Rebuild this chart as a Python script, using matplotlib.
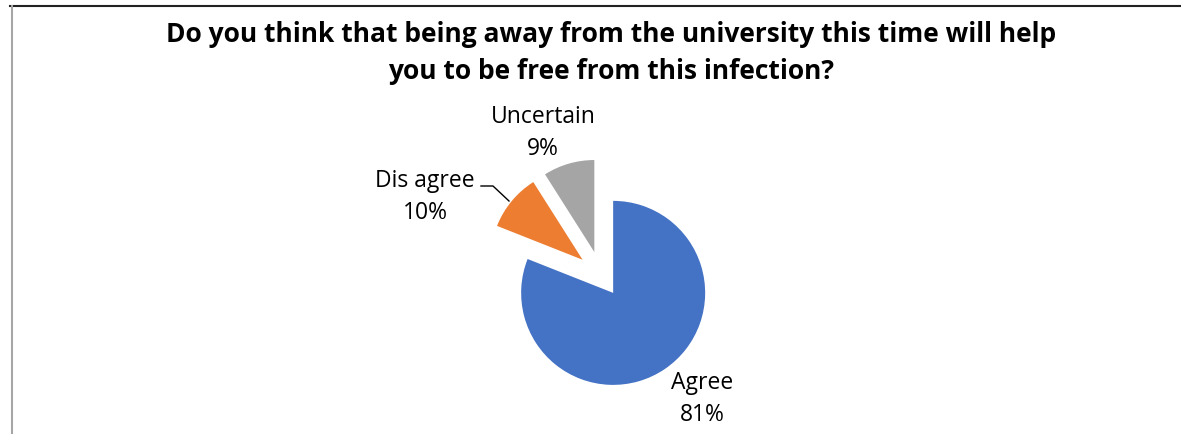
import matplotlib.pyplot as plt
from matplotlib.lines import Line2D

# data
labels = ['Agree', 'Dis agree', 'Uncertain']
values = [81, 10, 9]
colors = ['#4472C4', '#ED7D31', '#A5A5A5']
explode = [0.235, 0.26, 0.26]  # fraction of radius
title = ('Do you think that being away from the university this time will help\n'
         'you to be free from this infection?')

W, H = 1181, 435
R = 92
fig = plt.figure(figsize=(W / 100, H / 100), dpi=100)
ax = fig.add_axes([0, 0, 1, 1])

# pie in pixel coords (y axis inverted, so flip counterclock)
# matplotlib's explode offset is absolute, so scale by radius
wedges, _ = ax.pie(values, colors=colors, explode=[e * R for e in explode],
                   startangle=-90, counterclock=True, radius=R,
                   center=(601, 276), frame=True, wedgeprops=dict(linewidth=0))
ax.set_xlim(0, W)
ax.set_ylim(H, 0)
ax.set_aspect('equal')
ax.axis('off')

fam = ['Open Sans', 'DejaVu Sans']
ax.text(611, 53, title, ha='center', va='center', fontsize=19,
        fontweight='bold', family=fam, linespacing=1.45)

lab_pos = [(702, 399), (425, 197), (543, 133)]
for lab, v, (x, y) in zip(labels, values, lab_pos):
    ax.text(x, y, f'{lab}\n{v}%', ha='center', va='center', fontsize=16.5,
            family=fam, linespacing=1.42, color='#000000')

# leader line for Dis agree
ax.plot([481, 493, 509], [187, 187, 202], color='black', lw=1)

# chart frame
fig.add_artist(Line2D([10 / W, 1], [1 - 6.5 / H, 1 - 6.5 / H], color='#222222', lw=1.5))
fig.add_artist(Line2D([11.7 / W, 11.7 / W], [0, 1 - 7 / H], color='#a6a6a6', lw=1.5))

fig.savefig('out.png', dpi=100)
